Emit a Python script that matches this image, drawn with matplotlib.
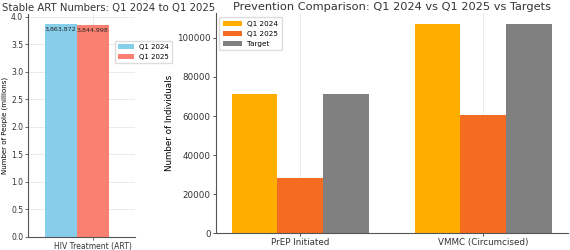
import matplotlib
matplotlib.use("Agg")

import matplotlib.pyplot as plt
import numpy as np

# ART numbers (millions)
art_category = ["HIV Treatment (ART)"]
art_q1_2024 = [3.863872]
art_q1_2025 = [3.844998]
art_labels_2024 = ["3,863,872"]
art_labels_2025 = ["3,844,998"]

# Prevention numbers
prev_categories = ["PrEP Initiated", "VMMC (Circumcised)"]
prev_q1_2024 = [71300, 107200]
prev_q1_2025 = [28400, 60600]
prev_target = [71300, 107200]

W, H = 570, 250
fig = plt.figure(figsize=(W / 100, H / 100), dpi=100)

GRID = "#e6e6e6"
SPINE = "#555555"

# ---- left chart ----
ax1 = fig.add_axes([28 / W, 1 - 236.7 / H, 107 / W, 223 / H])
x = np.arange(len(art_category))
w = 0.35
b1 = ax1.bar(x - w, art_q1_2024, w, color="#87CEEB", label="Q1 2024", zorder=2)
b2 = ax1.bar(x, art_q1_2025, w, color="#FA8072", label="Q1 2025", zorder=2)
for bars, labels in ((b1, art_labels_2024), (b2, art_labels_2025)):
    for bar, lab in zip(bars, labels):
        ax1.annotate(lab, (bar.get_x() + bar.get_width() / 2, bar.get_height()),
                     xytext=(0, -2), textcoords="offset points",
                     ha="center", va="top", fontsize=4.5, color="#222222")
ax1.set_xlim(-0.708, 0.463)
ax1.set_ylim(0, 4.057)
ax1.set_xticks(x)
ax1.set_xticklabels(art_category, fontsize=5.5)
ax1.set_yticks(np.arange(0, 4.01, 0.5))
ax1.set_yticklabels([f"{v:.1f}" for v in np.arange(0, 4.01, 0.5)], fontsize=5.5)
ax1.set_ylabel("Number of People (millions)", fontsize=5, labelpad=2)
ax1.grid(True, color=GRID, linewidth=0.6, zorder=0)
ax1.set_axisbelow(True)
for s in ("top", "right"):
    ax1.spines[s].set_visible(False)
for s in ("left", "bottom"):
    ax1.spines[s].set_color(SPINE)
    ax1.spines[s].set_linewidth(0.8)
ax1.tick_params(length=2, width=0.5, pad=1.5, colors="#333333")
ax1.set_title("Stable ART Numbers: Q1 2024 to Q1 2025", fontsize=7.3,
              x=0.75, pad=1.8, color="#333333")
ax1.legend(loc="upper left", bbox_to_anchor=(0.78, 0.895), fontsize=5,
           frameon=True, edgecolor="#dddddd", framealpha=1, fancybox=True,
           handlelength=2.2, borderpad=0.5, labelspacing=0.5)

# ---- right chart ----
ax2 = fig.add_axes([215.7 / W, 1 - 233.3 / H, 352.3 / W, 220 / H])
xp = np.arange(len(prev_categories))
wp = 0.25
ax2.bar(xp - wp, prev_q1_2024, wp, color="#FFAE00", label="Q1 2024", zorder=2)
ax2.bar(xp, prev_q1_2025, wp, color="#F46B22", label="Q1 2025", zorder=2)
ax2.bar(xp + wp, prev_target, wp, color="#808080", label="Target", zorder=2)
ax2.set_xticks(xp)
ax2.set_xticklabels(prev_categories, fontsize=6.3)
ax2.tick_params(axis="y", labelsize=6.3)
ax2.set_ylabel("Number of Individuals", fontsize=6.3, labelpad=2)
ax2.grid(axis="x", color=GRID, linewidth=0.6, zorder=3)
ax2.grid(axis="y", visible=False)
for s in ("top", "right"):
    ax2.spines[s].set_visible(False)
for s in ("left", "bottom"):
    ax2.spines[s].set_color(SPINE)
    ax2.spines[s].set_linewidth(0.8)
ax2.tick_params(length=2, width=0.6, pad=1.5, colors="#333333")
ax2.set_title("Prevention Comparison: Q1 2024 vs Q1 2025 vs Targets",
              fontsize=8.2, pad=2.2, color="#333333")
ax2.legend(loc="upper left", fontsize=5.2, frameon=True, edgecolor="#dddddd",
           framealpha=1, handlelength=2.6, borderpad=0.5, labelspacing=0.55)

fig.savefig("out.png", dpi=100)
